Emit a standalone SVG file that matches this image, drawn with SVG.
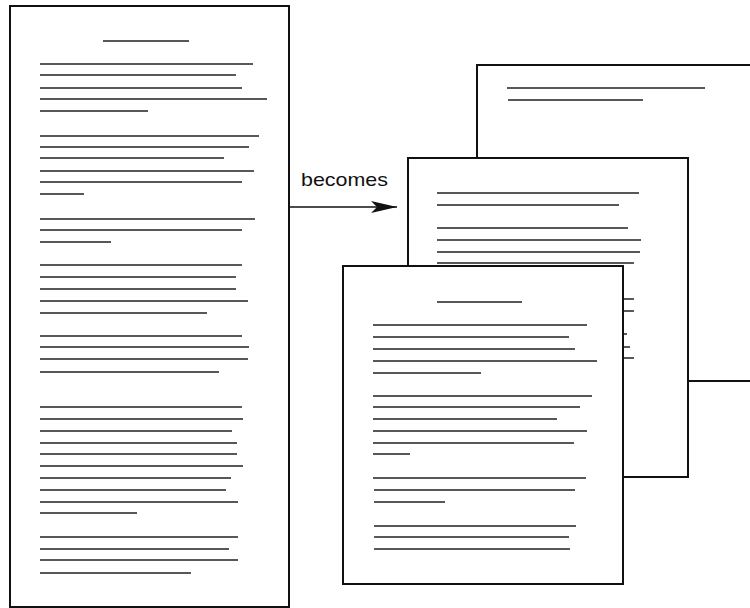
<svg xmlns="http://www.w3.org/2000/svg" width="750" height="608" viewBox="0 0 750 608">
<style>
.page{fill:#fff;stroke:#111;stroke-width:2}
.ln{stroke:#222;stroke-width:1.3;fill:none}
.conn{stroke:#111;stroke-width:1.5;fill:none}
.lbl{font-family:"Liberation Sans","DejaVu Sans",sans-serif;font-size:19px;fill:#111}
</style>
<defs>
<marker id="ah" markerWidth="26" markerHeight="14" refX="26" refY="7" orient="auto" markerUnits="userSpaceOnUse">
<path d="M0,1 L26,7 L0,13 L6,7 z" fill="#111"/>
</marker>
</defs>
<rect width="750" height="608" fill="#fff"/>

<g id="source-document">
<rect class="page" x="10" y="6" width="279" height="601"/>
<path class="ln" d="M103,41H189
M40,64H253 M40,75H236 M40,88H242 M40,99H267 M40,111H148
M40,136H259 M40,147H249 M40,158H224 M40,171H254 M40,182H242 M40,194H84
M40,219H255 M40,230H242 M40,242H111
M40,265H242 M40,277H236 M40,289H236 M40,301H248 M40,313H207
M40,336H242 M40,347H249 M40,359H248 M40,372H219
M40,407H242 M40,419H243 M40,431H232 M40,443H237 M40,454H237 M40,466H243 M40,478H231 M40,490H226 M40,502H238 M40,513H137
M40,537H238 M40,549H229 M40,560H238 M40,573H191"/>
</g>

<g id="page-3">
<rect class="page" x="477" y="65" width="290" height="316"/>
<path class="ln" d="M507,88H705 M508,100H643"/>
</g>

<g id="page-2">
<rect class="page" x="408" y="158" width="280" height="319"/>
<path class="ln" d="M437,193H639 M437,205H619 M437,228H628 M437,240H641 M437,252H640 M437,263H634 M437,299H634 M437,311H634 M437,334H627 M437,347H630 M437,358H634"/>
</g>

<g id="page-1">
<rect class="page" x="343" y="266" width="280" height="318"/>
<path class="ln" d="M437,302H522
M373,325H587 M373,337H569 M373,349H575 M373,361H597 M373,373H481
M373,396H592 M373,407H580 M373,419H557 M373,431H587 M373,443H574 M373,454H410
M373,478H586 M374,490H575 M374,502H445
M374,526H576 M374,537H569 M374,549H570"/>
</g>

<g id="connectors">
<line class="conn" x1="289" y1="207" x2="397" y2="207" marker-end="url(#ah)"/>
<text class="lbl" x="301" y="186" textLength="87" lengthAdjust="spacingAndGlyphs">becomes</text>
</g>
</svg>
